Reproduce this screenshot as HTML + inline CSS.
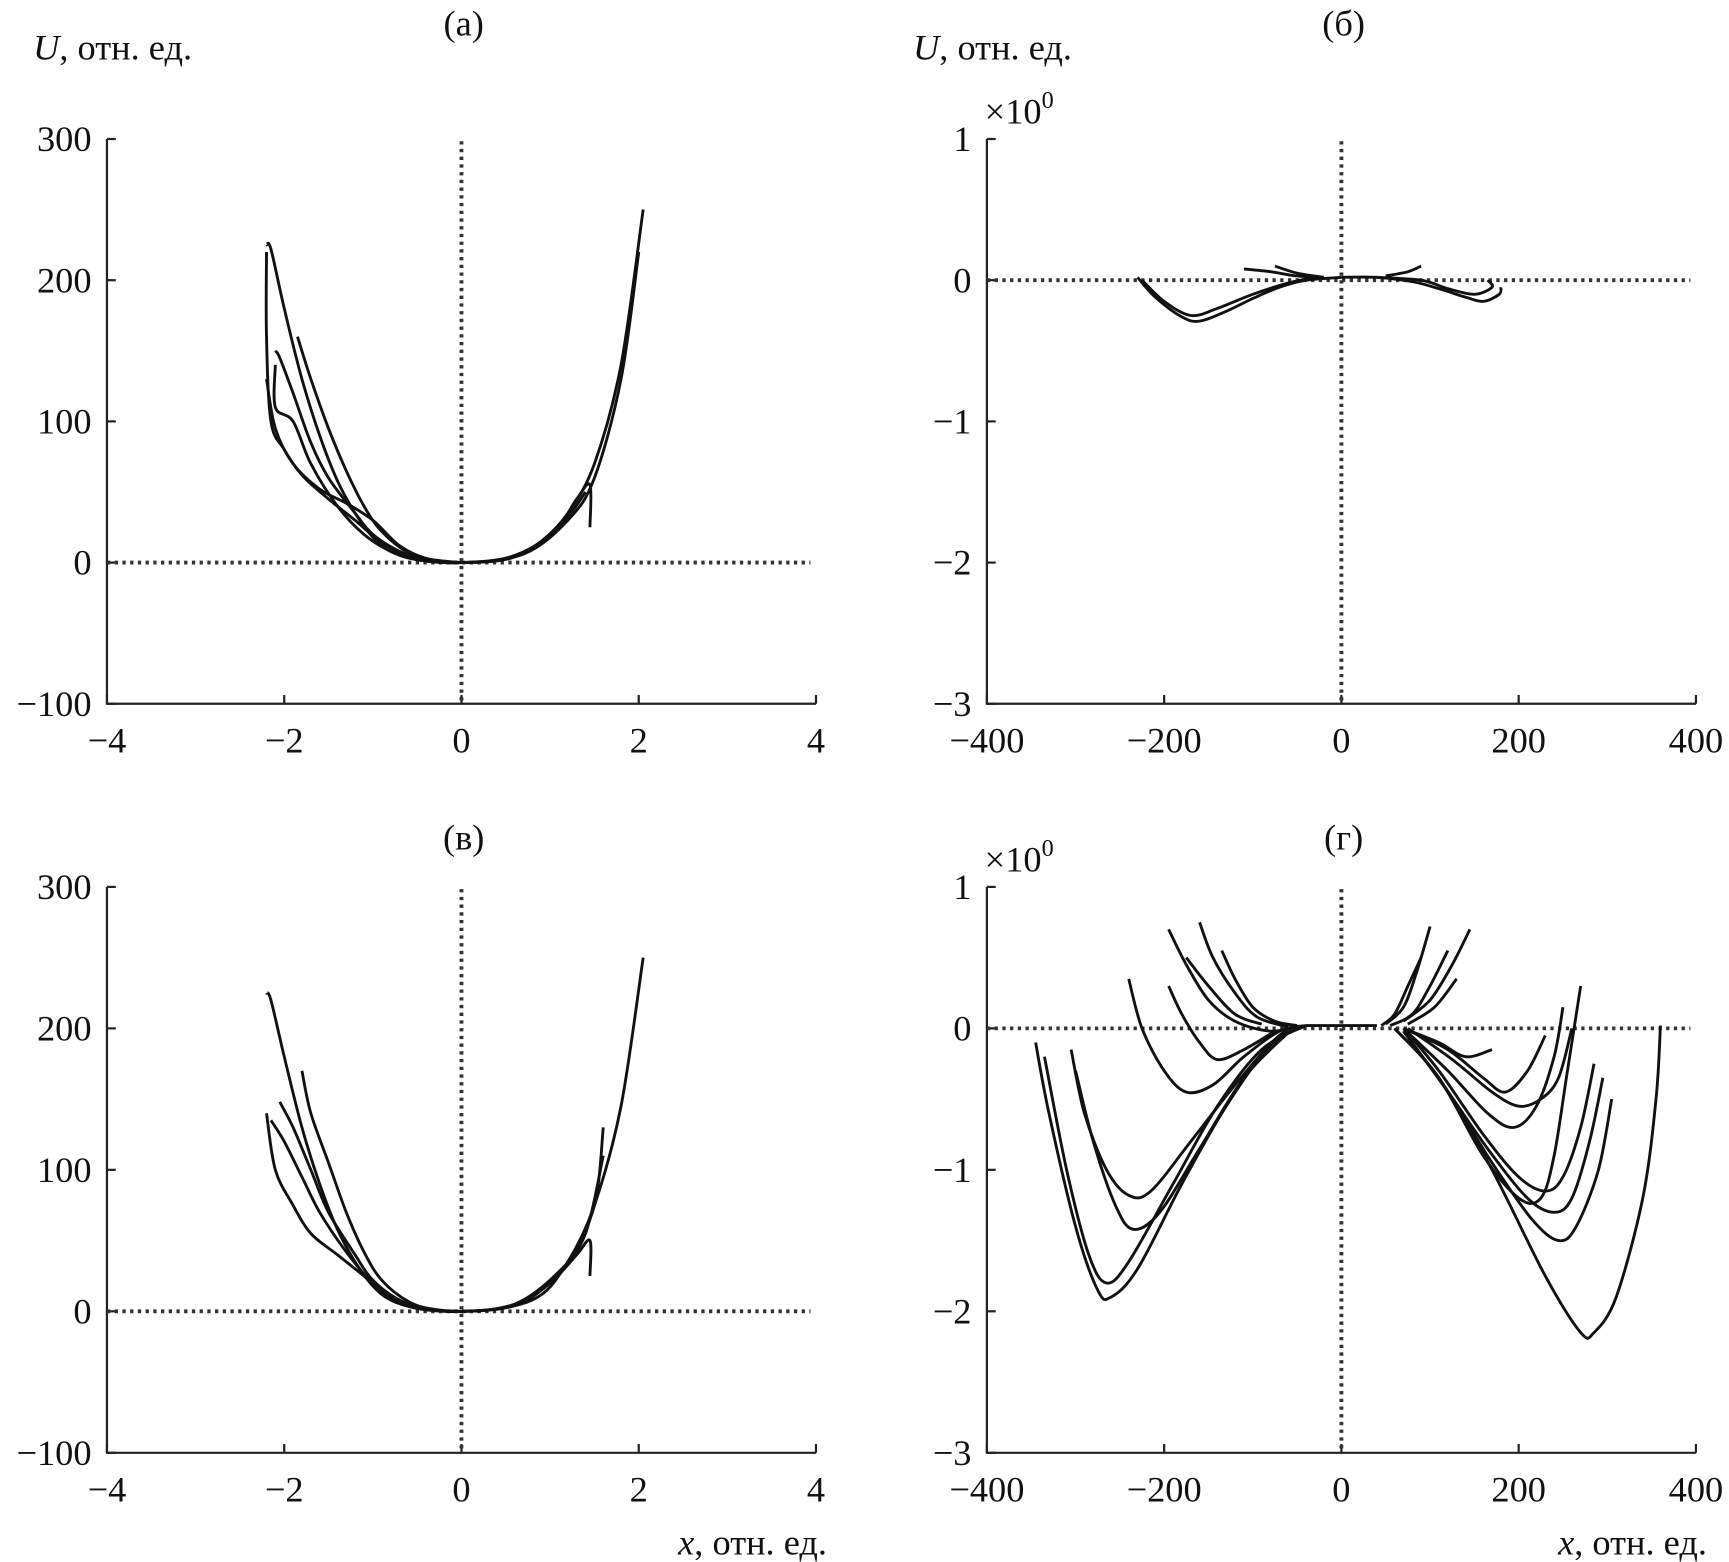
<!DOCTYPE html>
<html><head><meta charset="utf-8"><style>
html,body{margin:0;padding:0;background:#fff}
svg{display:block}
text{font-family:"Liberation Serif",serif;fill:#111}
</style></head><body>
<svg id="fig" width="1729" height="1562" viewBox="0 0 1568 1416" preserveAspectRatio="none" xmlns="http://www.w3.org/2000/svg"></svg>
<script>
// Panel data: each curve is a list of [x, U] points
const panelAcurves = [
 [[-2.2,225],[-2.15,222],[-2.0,180],[-1.8,130],[-1.6,90],[-1.4,58],[-1.2,35],[-1.0,18],[-0.8,8],[-0.5,2],[-0.2,0],[0,0],[0.3,1],[0.6,5],[0.9,15],[1.2,35],[1.5,70],[1.8,140],[2.05,250]],
 [[-2.2,220],[-2.2,160],[-2.15,100],[-2.0,80],[-1.8,62],[-1.5,45],[-1.2,30],[-0.9,14],[-0.6,5],[-0.3,1],[0,0],[0.5,3],[1.0,18],[1.3,45],[1.45,55],[1.45,25]],
 [[-2.1,150],[-2.05,145],[-1.9,120],[-1.7,85],[-1.5,60],[-1.2,35],[-1.0,20],[-0.7,8],[-0.4,2],[0,0],[0.6,4],[1.1,25],[1.4,50]],
 [[-1.85,160],[-1.7,130],[-1.5,95],[-1.3,65],[-1.1,40],[-0.9,22],[-0.6,7],[-0.3,1],[0,0]],
 [[-2.1,140],[-2.1,110],[-1.9,100],[-1.7,70],[-1.4,40],[-1.1,20],[-0.8,8],[-0.5,2],[0,0],[0.7,6],[1.2,30],[1.5,60],[1.8,130],[2.0,220]],
 [[-2.2,130],[-2.1,95],[-1.9,70],[-1.6,52],[-1.3,42],[-1.0,30],[-0.7,12],[-0.4,3],[0,0]]
];
const panelBcurves = [
 [[-230,0.02],[-210,-0.12],[-180,-0.26],[-160,-0.29],[-130,-0.22],[-100,-0.13],[-70,-0.05],[-40,0.0],[0,0.02]],
 [[-225,0.0],[-200,-0.15],[-170,-0.25],[-140,-0.2],[-100,-0.1],[-60,-0.02],[-30,0.02]],
 [[-110,0.08],[-80,0.06],[-50,0.03],[-20,0.02]],
 [[-75,0.1],[-50,0.05],[-20,0.02]],
 [[0,0.02],[40,0.02],[80,-0.01],[110,-0.06],[140,-0.12],[160,-0.15],[178,-0.1],[180,-0.05]],
 [[40,0.02],[90,0.0],[120,-0.06],[150,-0.1],[170,-0.05],[165,0.0]],
 [[50,0.03],[75,0.06],[90,0.1]]
];
const panelCcurves = [
 [[-2.2,225],[-2.15,220],[-2.0,180],[-1.8,130],[-1.6,90],[-1.4,58],[-1.2,35],[-1.0,18],[-0.8,8],[-0.5,2],[-0.2,0],[0,0],[0.3,1],[0.6,5],[0.9,15],[1.2,35],[1.5,75],[1.8,145],[2.05,250]],
 [[-2.2,140],[-2.1,100],[-1.9,75],[-1.7,55],[-1.4,40],[-1.1,25],[-0.8,10],[-0.5,3],[0,0],[0.6,4],[1.0,20],[1.3,40],[1.45,50],[1.45,25]],
 [[-2.05,148],[-1.9,130],[-1.7,100],[-1.5,70],[-1.2,40],[-1.0,22],[-0.7,8],[-0.4,2],[0,0],[0.6,5],[1.1,28],[1.4,55],[1.6,110]],
 [[-1.8,170],[-1.7,140],[-1.5,105],[-1.3,70],[-1.1,42],[-0.9,22],[-0.6,7],[-0.3,1],[0,0]],
 [[-2.15,135],[-2.0,120],[-1.8,95],[-1.6,70],[-1.3,42],[-1.0,20],[-0.7,7],[0,0],[0.8,8],[1.2,35],[1.5,75],[1.6,130]]
];
const panelDcurves = [
 [[-345,-0.1],[-330,-0.6],[-300,-1.4],[-275,-1.85],[-260,-1.9],[-230,-1.7],[-180,-1.1],[-130,-0.55],[-80,-0.12],[-40,0.02]],
 [[-335,-0.2],[-310,-1.0],[-285,-1.6],[-265,-1.8],[-240,-1.65],[-190,-1.1],[-140,-0.55],[-90,-0.15],[-40,0.02]],
 [[-305,-0.15],[-290,-0.6],[-265,-1.0],[-240,-1.18],[-215,-1.15],[-170,-0.8],[-120,-0.4],[-70,-0.05],[-40,0.02]],
 [[-300,-0.3],[-280,-0.8],[-255,-1.25],[-235,-1.42],[-205,-1.3],[-160,-0.85],[-110,-0.35],[-60,-0.03]],
 [[-240,0.35],[-225,0.0],[-200,-0.3],[-175,-0.45],[-145,-0.4],[-110,-0.2],[-70,-0.02],[-40,0.02]],
 [[-195,0.3],[-180,0.1],[-160,-0.1],[-140,-0.22],[-110,-0.15],[-75,-0.02]],
 [[-195,0.7],[-175,0.45],[-150,0.2],[-120,0.05],[-80,-0.02],[-50,0.02]],
 [[-160,0.75],[-145,0.5],[-120,0.25],[-95,0.08],[-60,0.01]],
 [[-135,0.55],[-120,0.35],[-100,0.15],[-75,0.05],[-50,0.02]],
 [[-175,0.5],[-150,0.3],[-120,0.1],[-90,0.03]],
 [[-40,0.02],[40,0.02]],
 [[360,0.02],[355,-0.5],[340,-1.2],[310,-1.9],[285,-2.15],[270,-2.15],[230,-1.75],[170,-1.0],[110,-0.35],[60,0.0]],
 [[270,0.3],[255,-0.3],[240,-0.9],[225,-1.2],[200,-1.2],[160,-0.9],[110,-0.35],[60,0.0]],
 [[305,-0.5],[290,-1.0],[265,-1.4],[245,-1.5],[215,-1.35],[170,-0.95],[120,-0.45],[70,-0.02]],
 [[295,-0.35],[280,-0.8],[260,-1.2],[240,-1.3],[210,-1.2],[165,-0.85],[115,-0.4],[70,-0.02]],
 [[285,-0.25],[270,-0.7],[250,-1.05],[230,-1.15],[200,-1.05],[160,-0.75],[110,-0.3],[70,0]],
 [[250,0.15],[240,-0.2],[220,-0.55],[195,-0.7],[165,-0.6],[120,-0.3],[70,0]],
 [[260,0.0],[245,-0.35],[225,-0.5],[200,-0.55],[170,-0.45],[125,-0.22],[75,0]],
 [[230,-0.05],[210,-0.3],[185,-0.45],[160,-0.35],[120,-0.15],[70,0]],
 [[170,-0.15],[140,-0.2],[110,-0.1],[70,0]],
 [[100,0.72],[85,0.4],[70,0.15],[50,0.03]],
 [[145,0.7],[125,0.45],[100,0.2],[70,0.05]],
 [[120,0.55],[100,0.3],[80,0.1],[55,0.02]],
 [[90,0.5],[75,0.3],[60,0.1],[45,0.02]],
 [[130,0.35],[105,0.15],[75,0.03]]
];
const ticksA = [-4,-2,0,2,4];
const ticksAy = [300,200,100,0,-100];
const ticksB = [-400,-200,0,200,400];
const ticksBy = [1,0,-1,-2,-3];

const NS='http://www.w3.org/2000/svg';
const svg=document.getElementById('fig');
function el(tag,attrs,parent){const e=document.createElementNS(NS,tag);for(const k in attrs)e.setAttribute(k,attrs[k]);(parent||svg).appendChild(e);return e;}
function fmt(v){return v<0?'\u2212'+Math.abs(v):String(v);}
function pathD(pts){
  let d='M'+pts[0][0].toFixed(1)+','+pts[0][1].toFixed(1);
  for(let i=0;i<pts.length-1;i++){
    const p0=pts[Math.max(0,i-1)],p1=pts[i],p2=pts[i+1],p3=pts[Math.min(pts.length-1,i+2)];
    const c1=[p1[0]+(p2[0]-p0[0])/6,p1[1]+(p2[1]-p0[1])/6];
    const c2=[p2[0]-(p3[0]-p1[0])/6,p2[1]-(p3[1]-p1[1])/6];
    d+=' C'+c1[0].toFixed(1)+','+c1[1].toFixed(1)+' '+c2[0].toFixed(1)+','+c2[1].toFixed(1)+' '+p2[0].toFixed(1)+','+p2[1].toFixed(1);
  }
  return d;
}
function panel(name,L,R,T,B,xmin,xmax,ymin,ymax,xt,yt,curves,title,titleY,ylabel,xlabel,mult){
  const g=el('g',{});
  
  
  const sx=v=>L+(v-xmin)/(xmax-xmin)*(R-L);
  const sy=v=>B-(v-ymin)/(ymax-ymin)*(B-T);
  const ax=el('path',{d:`M${L},${T} V${B} H${R}`,stroke:'#222','stroke-width':2,fill:'none'},g);
  
  
  xt.forEach(v=>{
    el('line',{x1:sx(v),x2:sx(v),y1:B,y2:B-8,stroke:'#222','stroke-width':2},g);
    const t=el('text',{x:sx(v),y:B+44,'font-size':33,'text-anchor':'middle'},g);t.textContent=fmt(v);
    
    
  });
  yt.forEach(v=>{
    el('line',{x1:L,x2:L+8,y1:sy(v),y2:sy(v),stroke:'#222','stroke-width':2},g);
    const t=el('text',{x:L-14,y:sy(v)+11,'font-size':33,'text-anchor':'end'},g);t.textContent=fmt(v);
    
    
  });
  const h=el('line',{x1:L,x2:R-5,y1:sy(0),y2:sy(0),stroke:'#333','stroke-width':3.5,'stroke-dasharray':'3 4'},g);
  
  
  const v=el('line',{x1:sx(0),x2:sx(0),y1:T+2,y2:B,stroke:'#333','stroke-width':3.5,'stroke-dasharray':'3 4'},g);
  
  
  curves.forEach(c=>{
    const p=el('path',{d:pathD(c.map(q=>[sx(q[0]),sy(q[1])])),stroke:'#111','stroke-width':2.6,fill:'none','stroke-linejoin':'round'},g);
    
    
  });
  const tt=el('text',{x:sx(0)+2,y:titleY,'font-size':33,'text-anchor':'middle'},g);
  tt.textContent=title;
  
  
  if(ylabel){
    const yl=el('text',{x:L-67,y:T-72,'font-size':33},g);
    yl.innerHTML='<tspan font-style="italic">U</tspan>, отн. ед.';
    
    
  }
  if(mult){
    const m=el('text',{x:L-2,y:T-14,'font-size':33},g);
    m.innerHTML='×10<tspan font-size="22" dy="-14">0</tspan>';
    
    
  }
  if(xlabel){
    const xl=el('text',{x:R+10,y:B+92,'font-size':33,'text-anchor':'end'},g);
    xl.innerHTML='<tspan font-style="italic">x</tspan>, отн. ед.';
    
    
  }
}
panel('panel-a',97,740,126,638,-4,4,-100,300,ticksA,ticksAy,panelAcurves,'(а)',32,true,false,false);
panel('panel-b',895,1538,126,638,-400,400,-3,1,ticksB,ticksBy,panelBcurves,'(б)',32,true,false,true);
panel('panel-v',97,740,804,1317,-4,4,-100,300,ticksA,ticksAy,panelCcurves,'(в)',770,false,true,false);
panel('panel-g',895,1538,804,1317,-400,400,-3,1,ticksB,ticksBy,panelDcurves,'(г)',770,false,true,true);
</script>
</body></html>
